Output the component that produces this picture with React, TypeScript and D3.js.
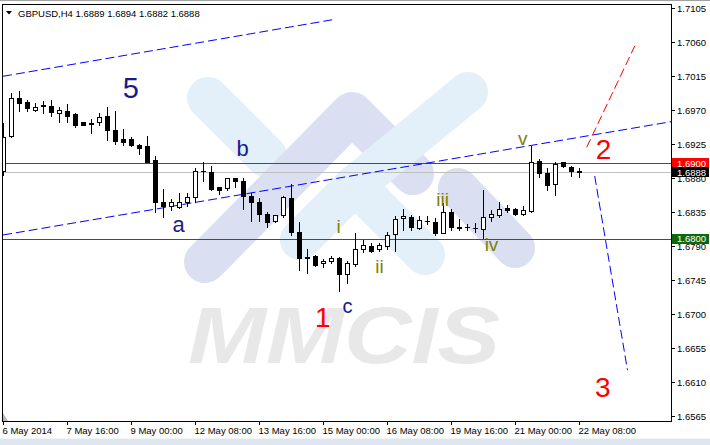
import React from "react";
import * as d3 from "d3";

// ---------- DATA ----------
const opens = [1.6889,1.6936,1.6986,1.6981,1.6971,1.6976,1.6976,1.6967,1.6969,1.6965,1.6954,1.6953,1.6954,1.6962,1.6944,1.6932,1.6932,1.6924,1.6923,1.6904,1.6849,1.6844,1.6842,1.6848,1.6855,1.6889,1.6888,1.6868,1.6867,1.6880,1.6876,1.6856,1.6849,1.6833,1.6823,1.6831,1.6854,1.6809,1.6776,1.6777,1.6768,1.6770,1.6775,1.6754,1.6766,1.6786,1.6790,1.6786,1.6791,1.6806,1.6827,1.6829,1.6814,1.6823,1.6822,1.6808,1.6835,1.6815,1.6815,1.6814,1.6813,1.6829,1.6831,1.6841,1.6840,1.6833,1.6837,1.6903,1.6887,1.6872,1.6901,1.6895,1.6889];
const highs = [1.6953,1.6993,1.6996,1.6983,1.6979,1.6982,1.6984,1.6974,1.6978,1.6967,1.6955,1.6958,1.6967,1.6974,1.6969,1.6945,1.6934,1.6926,1.6936,1.6910,1.6866,1.6853,1.6860,1.6860,1.6893,1.6901,1.6896,1.6869,1.6881,1.6880,1.6881,1.6860,1.6854,1.6835,1.6832,1.6856,1.6873,1.6822,1.6787,1.6778,1.6773,1.6777,1.6776,1.6771,1.6807,1.6798,1.6795,1.6795,1.6809,1.6830,1.6840,1.6832,1.6830,1.6830,1.6828,1.6847,1.6840,1.6826,1.6819,1.6821,1.6865,1.6838,1.6848,1.6845,1.6841,1.6843,1.6923,1.6906,1.6893,1.6901,1.6902,1.6896,1.6894];
const lows = [1.6884,1.6935,1.6969,1.6969,1.6969,1.6967,1.6963,1.6954,1.6954,1.6948,1.6950,1.6940,1.6951,1.6931,1.6925,1.6924,1.6923,1.6912,1.6901,1.6835,1.6829,1.6838,1.6841,1.6844,1.6849,1.6877,1.6865,1.6859,1.6864,1.6869,1.6840,1.6823,1.6824,1.6816,1.6822,1.6829,1.6805,1.6758,1.6755,1.6764,1.6763,1.6768,1.6731,1.6742,1.6764,1.6782,1.6783,1.6784,1.6786,1.6784,1.6811,1.6812,1.6813,1.6819,1.6805,1.6807,1.6811,1.6812,1.6811,1.6809,1.6801,1.6823,1.6829,1.6836,1.6831,1.6831,1.6836,1.6882,1.6864,1.6858,1.6895,1.6883,1.6882];
const closes = [1.6935,1.6986,1.6980,1.6973,1.6974,1.6977,1.6968,1.6970,1.6962,1.6950,1.6951,1.6952,1.6961,1.6944,1.6929,1.6928,1.6924,1.6920,1.6902,1.6849,1.6843,1.6848,1.6848,1.6855,1.6890,1.6890,1.6866,1.6865,1.6880,1.6877,1.6856,1.6848,1.6833,1.6822,1.6831,1.6855,1.6809,1.6775,1.6774,1.6765,1.6771,1.6774,1.6754,1.6768,1.6787,1.6792,1.6784,1.6792,1.6805,1.6826,1.6830,1.6815,1.6825,1.6823,1.6807,1.6836,1.6815,1.6814,1.6815,1.6814,1.6829,1.6833,1.6840,1.6838,1.6833,1.6838,1.6901,1.6887,1.6871,1.6899,1.6896,1.6889,1.6888];

const timeLabels = ["6 May 2014","7 May 16:00","9 May 00:00","12 May 08:00","13 May 16:00","15 May 00:00","16 May 08:00","19 May 16:00","21 May 00:00","22 May 08:00"];
const timeLabelBars = [0,8,16,24,32,40,48,56,64,72];
const priceTicks = [1.7105,1.7060,1.7015,1.6970,1.6925,1.6880,1.6835,1.6790,1.6745,1.6700,1.6655,1.6610,1.6565];

// wave labels
const waveTexts = ["5","b","a","1","c","i","ii","iii","iv","v","2","3"];
const waveBars = [15.9,29.9,21.9,39.9,43.0,41.9,47.0,54.9,61.0,64.9,75.0,74.9];
const wavePrices = [1.6986,1.69095,1.68089,1.66832,1.67017,1.68076,1.67547,1.68433,1.67838,1.69241,1.69056,1.65906];
const waveSizes = [29,22,22,28,20,19,19,19,19,19,28,28];
const waveColors = ["#1a1a8c","#1a1a8c","#1a1a8c","#ff0000","#1a1a8c","#808000","#808000","#808000","#808000","#808000","#ff0000","#ff0000"];

// trend lines: [bar1, price1, bar2, price2]
const upperChannel = [-0.06, 1.7015, 41.2, 1.7090];
const lowerChannel = [-0.06, 1.6805, 83.5, 1.6955];
const redProjection = [72.9, 1.6921, 78.9, 1.7055];
const blueProjection = [73.9, 1.6883, 78.0, 1.6626];

const hLinePrices = [1.6888, 1.6800, 1.6900];
const hLineColors = ["#c0c0c0", "#1d6a1d", "#ff0000"];
const tagPrices = [1.6900, 1.6800, 1.6888];
const tagColors = ["#ff0000", "#0b6b0b", "#000000"];

export default function App() {
  const W = 710, H = 445;
  const left = 2.5, right = 671.5, top = 4.5, bottom = 421.5;
  const x = d3.scaleLinear().domain([0, 72]).range([3.5, 579.5]);
  const y = d3.scaleLinear().domain([1.6565, 1.7105]).range([416.3, 8.3]);
  const font = "'Liberation Sans', Arial, sans-serif";

  const seg = (l: number[], color: string, dash: string) => (
    <line x1={x(l[0])} y1={y(l[1])} x2={x(l[2])} y2={y(l[3])} stroke={color} strokeWidth={1} strokeDasharray={dash} />
  );

  const lb = "#e3eff9";
  const lav = "#dadff2";

  return (
    <svg width={W} height={H} style={{ position: "fixed", left: 0, top: 0, background: "#fff" }} fontFamily={font}>
      <rect x={0} y={0} width={W} height={H} fill="#fff" />
      <rect x={0} y={0} width={W} height={1} fill="#a0a0a0" />
      <rect x={0} y={438} width={W} height={1} fill="#f4f4f4" />
      <rect x={0} y={439} width={W} height={6} fill="#dde6f1" />
      <defs>
        <clipPath id="plot">
          <rect x={left} y={top} width={right - left} height={bottom - top} />
        </clipPath>
      </defs>
      <g clipPath="url(#plot)">
        {/* watermark */}
        <g strokeLinecap="round" strokeLinejoin="round" fill="none">
          <path d="M208,98 L266,156" stroke={lb} strokeWidth={42} />
          <path d="M205,262 L352,113 L413,174" stroke={lav} strokeWidth={42} />
          <path d="M300,240 L355,185 L425,255" stroke={lb} strokeWidth={40} />
          <path d="M355,185 L468,92" stroke={lb} strokeWidth={40} />
          <path d="M458,188 L515,248" stroke={lav} strokeWidth={40} />
        </g>
        <text x={188} y={363} fontSize={80} fontWeight="bold" fontStyle="italic" fill="#e8e8e8" textLength={312} lengthAdjust="spacingAndGlyphs">MMCIS</text>
      </g>

      {/* horizontal level lines as filled 1px rects */}
      {hLinePrices.map((p, i) => (
        <rect key={i} x={3} y={Math.round(y(p))} width={668} height={1} fill={hLineColors[i]} />
      ))}

      <g clipPath="url(#plot)">
        {seg(upperChannel, "#0000ff", "9,4")}
        {seg(lowerChannel, "#0000ff", "9,4")}
        {seg(redProjection, "#ff0000", "9,4")}
        {seg(blueProjection, "#0000ff", "9,4")}

        {/* candles */}
        <g shapeRendering="crispEdges">
          {opens.map((o, i) => {
            const c = closes[i];
            const cx = x(i);
            const yt = Math.round(y(Math.max(o, c))) + 0.5;
            const yb = Math.round(y(Math.min(o, c))) + 0.5;
            const bull = c >= o;
            return (
              <g key={i}>
                <line x1={cx} x2={cx} y1={Math.round(y(highs[i]))} y2={Math.round(y(lows[i])) + 1} stroke="#000" />
                {yb - yt < 1 ? (
                  <line x1={cx - 2.5} x2={cx + 2.5} y1={yt} y2={yt} stroke="#000" />
                ) : (
                  <rect x={cx - 2} y={yt} width={4} height={yb - yt} fill={bull ? "#fff" : "#000"} stroke="#000" />
                )}
              </g>
            );
          })}
        </g>

        {/* wave labels */}
        {waveTexts.map((t, i) => (
          <text key={i} x={x(waveBars[i])} y={y(wavePrices[i])} fontSize={waveSizes[i]} fill={waveColors[i]} textAnchor="middle">{t}</text>
        ))}
        {/* shift marker */}
        <polygon points="3,413 3,421 8,421" fill="#b8b8b8" />
      </g>

      {/* frame */}
      <rect x={left} y={top} width={right - left} height={bottom - top} fill="none" stroke="#000" shapeRendering="crispEdges" />

      {/* title */}
      <polygon points="6,11 12,11 9,14.5" fill="#000" />
      <text x={18} y={16.5} fontSize={9.5} fill="#000">GBPUSD,H4  1.6889 1.6894 1.6882 1.6888</text>

      {/* price axis */}
      {priceTicks.map((p, i) => (
        <g key={i}>
          <rect x={672} y={Math.round(y(p))} width={3} height={1} fill="#000" />
          <text x={677} y={y(p) + 3.4} fontSize={9.5} fill="#000">{p.toFixed(4)}</text>
        </g>
      ))}
      {tagPrices.map((p, i) => (
        <g key={i}>
          <rect x={672} y={Math.round(y(p)) - 5} width={37} height={10} fill={tagColors[i]} />
          <text x={677} y={y(p) + 3.4} fontSize={9.5} fill="#fff">{p.toFixed(4)}</text>
        </g>
      ))}

      {/* time axis */}
      {timeLabels.map((t, i) => (
        <g key={i}>
          <rect x={Math.floor(x(timeLabelBars[i]))} y={422} width={1} height={3} fill="#000" />
          <text x={x(timeLabelBars[i]) - 1} y={434} fontSize={9.5} fill="#000">{t}</text>
        </g>
      ))}
    </svg>
  );
}
